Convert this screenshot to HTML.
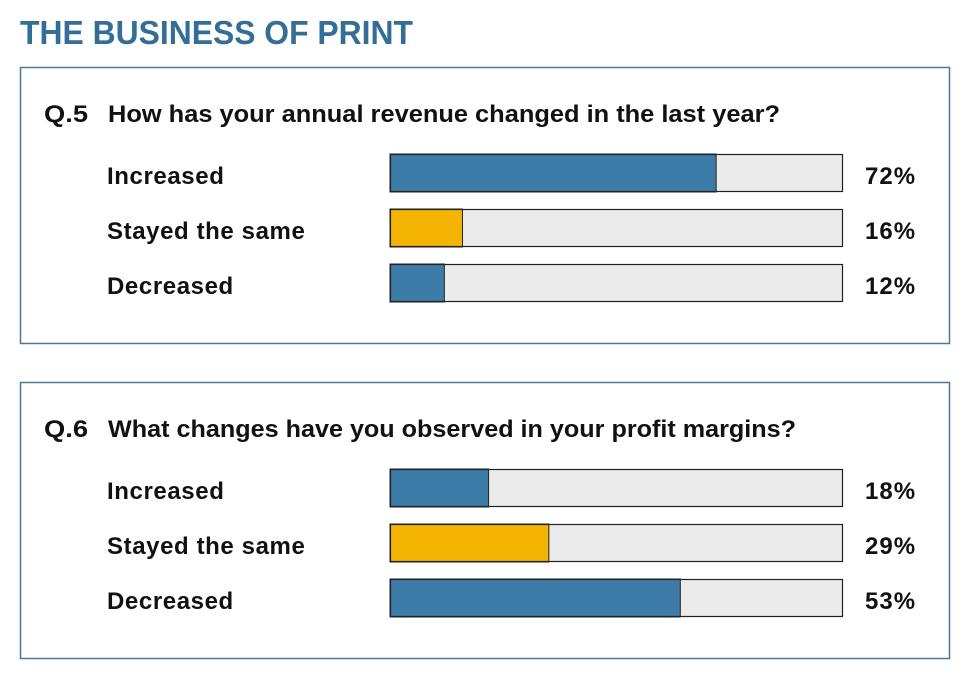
<!DOCTYPE html>
<html><head><meta charset="utf-8"><style>
body{margin:0;background:#fff;}
svg{display:block;font-family:"Liberation Sans",sans-serif;font-weight:bold;}
</style></head><body>
<svg id="chart" width="970" height="677">
<text x="20" y="44" font-size="33" fill="#336e96" textLength="393" lengthAdjust="spacingAndGlyphs">THE BUSINESS OF PRINT</text>
</svg>
<script>
const questionNums = ["Q.5", "Q.6"];
const questions = ["How has your annual revenue changed in the last year?", "What changes have you observed in your profit margins?"];
const questionWidths = [672, 688];
const categories = ["Increased", "Stayed the same", "Decreased"];
const q5Values = [72, 16, 12];
const q6Values = [18, 29, 53];
const valueSets = [q5Values, q6Values];
const scaleMax = [100, 82.7];
const barColors = ["#3d7ba8", "#f4b400", "#3d7ba8"];

const NS = "http://www.w3.org/2000/svg";
const svg = document.getElementById("chart");
function mk(tag, attrs, parent){
  const e = document.createElementNS(NS, tag);
  for (const k in attrs) e.setAttribute(k, attrs[k]);
  (parent||svg).appendChild(e);
  return e;
}
const barX0 = 390, barW = 453;
function xScale(v, max){ return Math.min(barW, barW * v / max); }

for (let p = 0; p < 2; p++) {
  const top = 67 + p * 315;
  const g = mk("g", {});
  
  
  const box = mk("rect", {x:20.5, y:top+0.5, width:929, height:276, fill:"none", stroke:"#4a7a96", "stroke-width":1.5}, g);
  
  
  const qn = mk("text", {x:44, y:top+55, "font-size":24, fill:"#111", textLength:44, lengthAdjust:"spacingAndGlyphs"}, g);
  qn.textContent = questionNums[p];
  
  
  const qt = mk("text", {x:108, y:top+55, "font-size":24, fill:"#111", textLength:questionWidths[p], lengthAdjust:"spacingAndGlyphs"}, g);
  qt.textContent = questions[p];
  
  
  const vals = valueSets[p];
  for (let i = 0; i < categories.length; i++) {
    const by = top + 87 + i * 55;
    const lab = mk("text", {x:107, y:by+30, "font-size":24, fill:"#111", "letter-spacing":0.6}, g);
    lab.textContent = categories[i];
    
    
    const bg = mk("rect", {x:barX0, y:by, width:barW, height:38, fill:"#ebebeb"}, g);
    
    
    const bar = mk("rect", {x:barX0, y:by, width:xScale(vals[i], scaleMax[p]), height:38, fill:barColors[i], stroke:"#222", "stroke-width":1}, g);
    
    
    const border = mk("rect", {x:barX0+0.5, y:by+0.5, width:barW-1, height:37, fill:"none", stroke:"#222", "stroke-width":1.2}, g);
    
    
    const vt = mk("text", {x:865, y:by+30, "font-size":24, fill:"#111", "letter-spacing":1}, g);
    vt.textContent = vals[i] + "%";
    
    
  }
}
</script>
</body></html>
